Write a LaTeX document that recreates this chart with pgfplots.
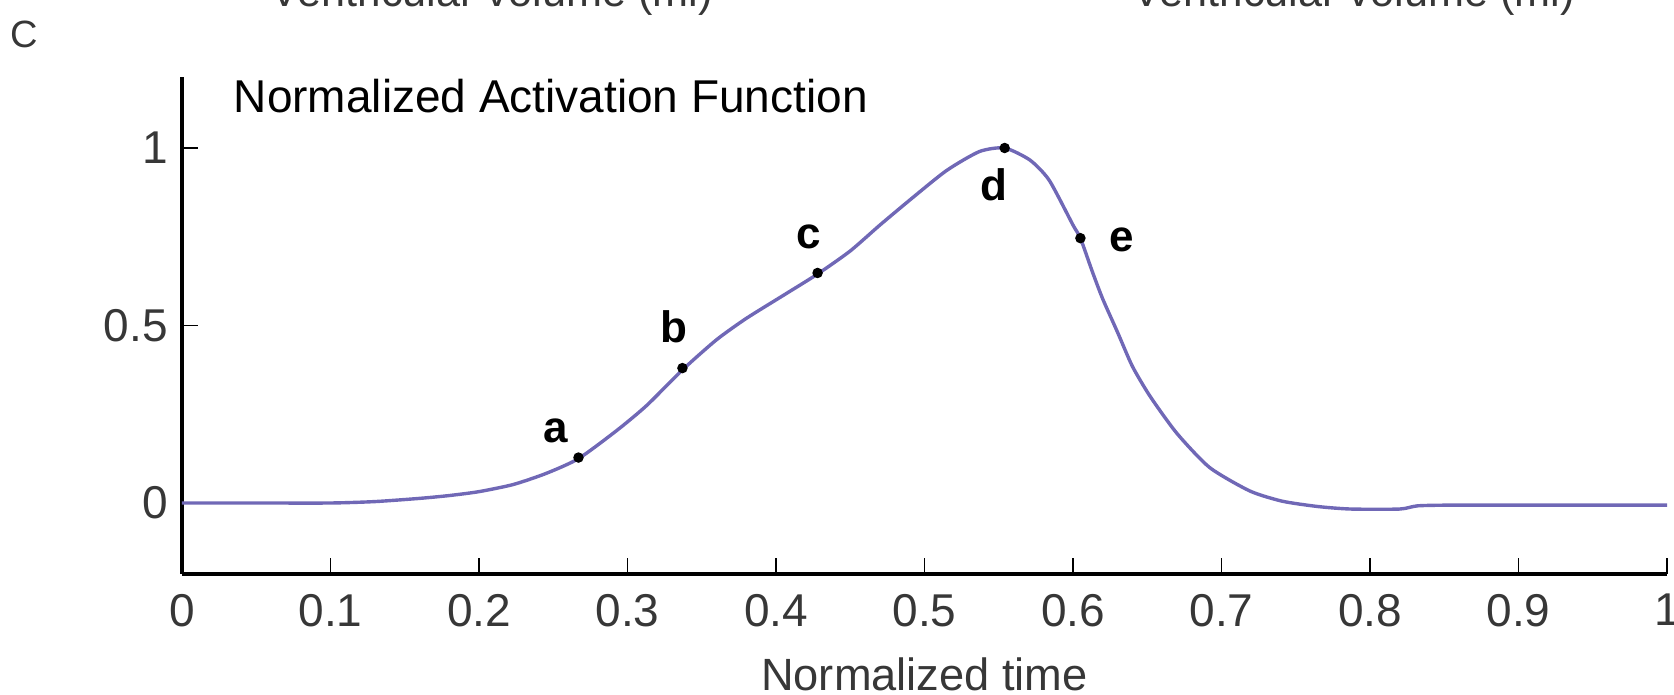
\documentclass[border=0pt]{standalone}
\usepackage{pgfplots}
\pgfplotsset{compat=1.18}
\usepackage{fontspec}
\setmainfont{Liberation Sans}
\definecolor{curve}{RGB}{112,104,182}
\definecolor{txt}{RGB}{55,55,55}
\begin{document}
\begin{tikzpicture}[x=1pt,y=1pt]
\begin{axis}[
  at={(45.5pt,-143.5pt)}, anchor=south west,
  scale only axis, width=371.25pt, height=124.25pt,
  xmin=0, xmax=1, ymin=-0.2, ymax=1.2,
  axis lines*=left,
  axis line style={line width=1pt, black},
  tick align=inside,
  major tick length=4pt,
  tick style={line width=0.45pt, black},
  xtick={0,0.1,0.2,0.3,0.4,0.5,0.6,0.7,0.8,0.9,1},
  xticklabels={0,0.1,0.2,0.3,0.4,0.5,0.6,0.7,0.8,0.9,1},
  ytick={0,0.5,1},
  yticklabels={0,0.5,1},
  ticklabel style={font=\fontsize{11.5}{13}\selectfont, text=txt},
  xticklabel style={yshift=-1.5pt},
  xlabel={Normalized time},
  xlabel style={at={(axis description cs:0.5,0)}, anchor=base, yshift=-29pt, font=\fontsize{11.3}{13}\selectfont, text=txt},
  clip=false,
]
\addplot[color=curve, line width=0.85pt, smooth, tension=0.4] coordinates {
(0,0) (0.05,0) (0.10,0) (0.13,0.004) (0.16,0.013) (0.18,0.021) (0.20,0.032)
(0.223,0.052) (0.245,0.083) (0.267,0.125) (0.293,0.205) (0.313,0.275) (0.337,0.375)
(0.36,0.46) (0.38,0.52) (0.405,0.585) (0.428,0.645) (0.45,0.71) (0.47,0.783)
(0.492,0.86) (0.515,0.937) (0.537,0.99) (0.554,1.0) (0.571,0.966) (0.584,0.909)
(0.600,0.783) (0.605,0.746) (0.613,0.652) (0.620,0.575) (0.630,0.481) (0.640,0.385)
(0.652,0.30) (0.670,0.196) (0.692,0.10) (0.719,0.034) (0.741,0.005) (0.765,-0.01)
(0.787,-0.017) (0.82,-0.017) (0.832,-0.008) (0.854,-0.006) (0.90,-0.006) (1.0,-0.006)
};
\addplot[only marks, mark=*, mark size=1.1pt, black] coordinates {
(0.267,0.128) (0.337,0.38) (0.428,0.648) (0.554,1.0) (0.605,0.746)
};
\begin{scope}[every node/.style={font=\fontsize{11}{13}\selectfont\bfseries, anchor=base, inner sep=0pt}]
\node at (axis cs:0.252,0.171) {a};
\node at (axis cs:0.331,0.453) {b};
\node at (axis cs:0.422,0.718) {c};
\node at (axis cs:0.547,0.852) {d};
\node at (axis cs:0.633,0.709) {e};
\end{scope}
\end{axis}
\node[anchor=base west, inner sep=0pt, font=\fontsize{11.5}{13}\selectfont] at (58.25pt,-28.25pt) {Normalized Activation Function};
\node[anchor=base west, inner sep=0pt, text=txt, font=\fontsize{9.5}{11}\selectfont] at (2.5pt,-12pt) {C};
\node[anchor=base west, inner sep=0pt, text=txt, font=\fontsize{10.8}{13}\selectfont] at (67.5pt,-1.75pt) {Ventricular volume (ml)};
\node[anchor=base west, inner sep=0pt, text=txt, font=\fontsize{10.8}{13}\selectfont] at (283pt,-1.75pt) {Ventricular volume (ml)};
\pgfresetboundingbox
\path[use as bounding box] (0pt,0pt) rectangle (418.5pt,-173.75pt);
\end{tikzpicture}
\end{document}
